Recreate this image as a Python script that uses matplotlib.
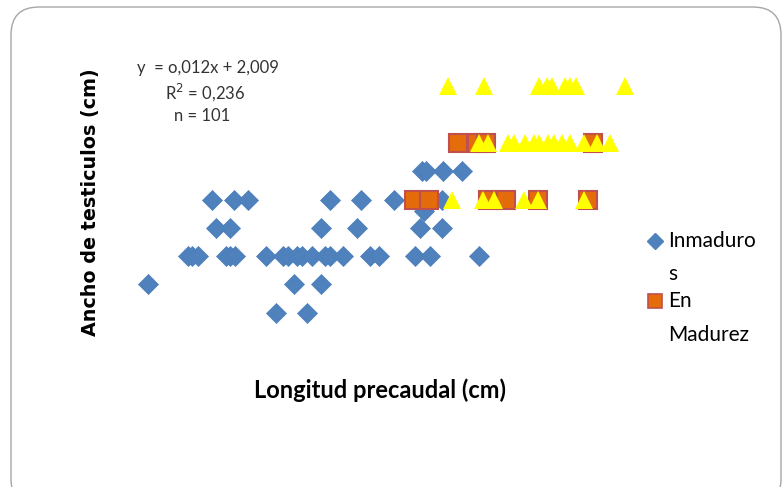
import matplotlib
matplotlib.use('Agg')
import matplotlib.pyplot as plt
from matplotlib.patches import FancyBboxPatch
from matplotlib.lines import Line2D

# Inmaduros (diamantes)
inm_x = [39.5, 43.4,
         23.5, 41.7, 45.1,
         28.5, 29.0, 29.7, 33.3, 33.8, 34.4, 38.3, 40.4, 41.0, 42.1, 42.7,
         44.0, 45.6, 46.3, 47.9, 51.3, 52.4, 56.9, 58.7, 64.9,
         32.0, 33.8, 45.1, 49.6, 57.5, 60.3,
         58.0,
         31.5, 34.3, 36.0, 46.2, 50.1, 54.2, 60.3,
         57.7, 58.3, 60.4, 62.7]
inm_y = [1.0] * 2 + [1.5] * 3 + [2.0] * 20 + [2.5] * 6 + [2.8] + [3.0] * 7 + [3.5] * 4

# En madurez (cuadrados)
mad_x = [62.2, 64.6, 65.8, 79.1,
         56.8, 58.6, 66.0, 68.3, 72.3, 78.5]
mad_y = [4.0] * 4 + [3.0] * 6

# Maduros (triangulos)
tri_x = [61.0, 65.5, 72.4, 73.4, 74.0, 75.6, 76.3, 77.0, 83.1,
         64.9, 66.0, 68.5, 69.2, 70.6, 71.7, 72.4, 73.5, 74.2, 75.2, 76.3, 78.0, 79.6, 81.3,
         61.5, 65.4, 66.7, 70.5, 72.3, 78.0]
tri_y = [5.0] * 9 + [4.0] * 14 + [3.0] * 6

fig = plt.figure(figsize=(7.82, 4.87), dpi=100)

# marco redondeado
bg = fig.add_axes([0, 0, 1, 1])
bg.set_xlim(0, 782)
bg.set_ylim(487, 0)
bg.axis('off')
bg.add_patch(FancyBboxPatch((11, 7), 770, 500, boxstyle='round,pad=0,rounding_size=28',
                            facecolor='white', edgecolor='#a6a6a6', linewidth=1.0))

ax = fig.add_axes([120 / 782, 1 - 341 / 487, 520 / 782, 283 / 487])
ax.set_xlim(20, 85)
ax.set_ylim(0.5, 5.5)
ax.axis('off')

ax.plot(inm_x, inm_y, 'D', color='#4f81bd', markersize=10.2, markeredgecolor='#4a7ebb',
        markeredgewidth=0.5, linestyle='none')
ax.plot(mad_x, mad_y, 's', color='#e46c0a', markersize=13.5, markeredgecolor='#c0504d',
        markeredgewidth=1.5, linestyle='none')
ax.plot(tri_x, tri_y, '^', color='#ffff00', markersize=13.5, markeredgewidth=0, linestyle='none')

font = 'Lato'
fig.text(208 / 782, 1 - 68 / 487, 'y  = o,012x + 2,009', ha='center', va='center',
         fontsize=12, family=font, color='#333333')
fig.text(205 / 782, 1 - 92 / 487, 'R$^2$ = 0,236', ha='center', va='center',
         fontsize=12, family=font, color='#333333')
fig.text(202 / 782, 1 - 116 / 487, 'n = 101', ha='center', va='center',
         fontsize=12, family=font, color='#333333')

fig.text(91 / 782, 1 - 202 / 487, 'Ancho de testiculos (cm)', rotation=90, ha='center',
         va='center', fontsize=13.8, fontweight='bold', family='DejaVu Sans')
fig.text(380 / 782, 1 - 390 / 487, 'Longitud precaudal (cm)', ha='center', va='center',
         fontsize=17, fontweight='bold', family=font)

# leyenda
fig.add_artist(Line2D([655 / 782], [1 - 241 / 487], marker='D', color='#4f81bd',
                      markersize=8, linestyle='none', transform=fig.transFigure))
fig.add_artist(Line2D([655 / 782], [1 - 301 / 487], marker='s', color='#e46c0a',
                      markeredgecolor='#c0504d', markeredgewidth=1.2, markersize=10,
                      linestyle='none', transform=fig.transFigure))
fig.text(668 / 782, 1 - 241 / 487, 'Inmaduro', ha='left', va='center', fontsize=15, family=font)
fig.text(668 / 782, 1 - 274 / 487, 's', ha='left', va='center', fontsize=15, family=font)
fig.text(668 / 782, 1 - 301 / 487, 'En', ha='left', va='center', fontsize=15, family=font)
fig.text(668 / 782, 1 - 335 / 487, 'Madurez', ha='left', va='center', fontsize=15, family=font)

fig.savefig('out.png', dpi=100)
plt.close(fig)
